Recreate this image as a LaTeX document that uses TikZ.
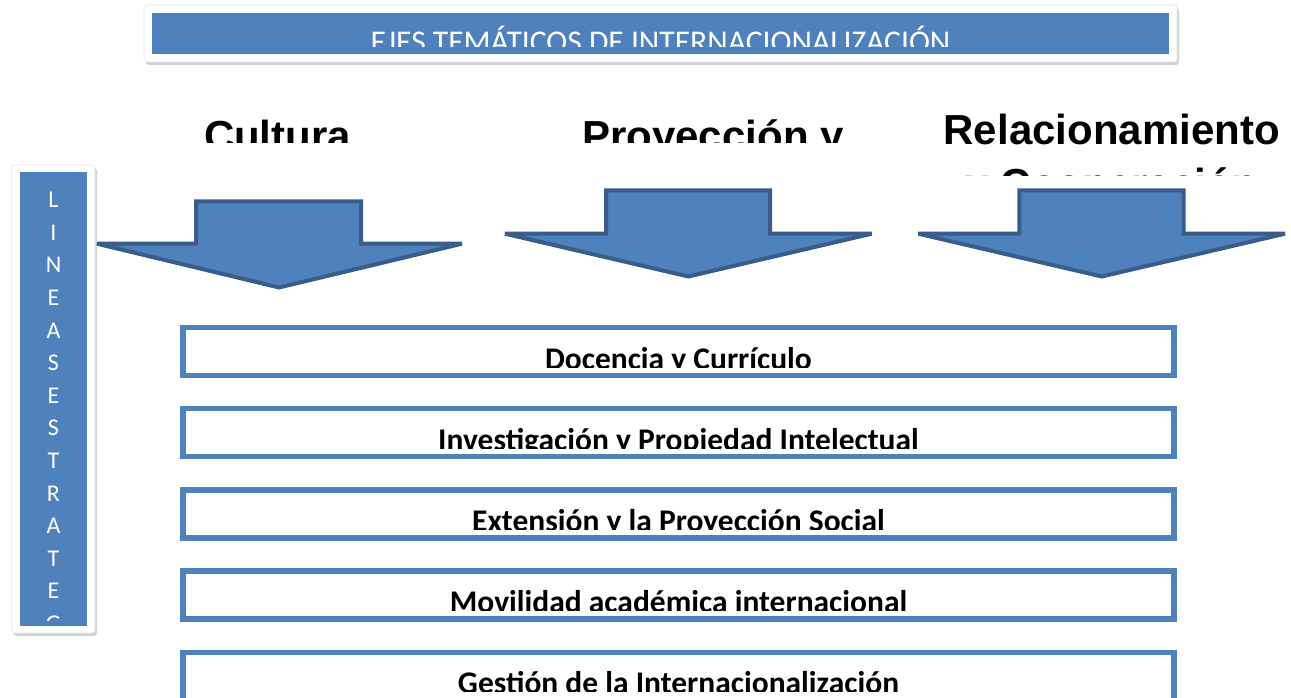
\documentclass[tikz,border=0pt]{standalone}
\usepackage{fontspec}
\setmainfont{Carlito}
\newfontfamily\arialfont{Liberation Sans}
\usetikzlibrary{shadows}
\definecolor{accent}{HTML}{4F81BD}
\definecolor{accentdark}{HTML}{385D8A}
\begin{document}
\begin{tikzpicture}[x=1pt,y=-1pt,
  panel/.style={fill=white, draw=black!10, line width=0.6pt, rounded corners=3pt,
    drop shadow={shadow xshift=2pt, shadow yshift=-3pt, opacity=0.35}},
  bluefill/.style={fill=accent, draw=none},
  axisarrow/.style={fill=accent, draw=accentdark, line width=4pt, line join=miter, miter limit=2},
  linebox/.style={fill=white, draw=accent, line width=5.5pt},
  headtext/.style={font=\arialfont\bfseries\fontsize{42}{53}\selectfont, inner sep=0, anchor=base, align=center},
  boxtext/.style={font=\bfseries\fontsize{31.5}{38}\selectfont, inner sep=0, anchor=base},
  titletext/.style={font=\fontsize{31.6}{38}\selectfont, text=white, inner sep=0, anchor=base},
  vtext/.style={font=\fontsize{24}{28}\selectfont, text=white, inner sep=0, anchor=base}
]
\clip (0,0) rectangle (1291,698);
\fill[white] (0,0) rectangle (1291,698);

% title panel
\path[panel] (144,5) rectangle (1177,62);
\path[bluefill] (152,12.7) rectangle (1169,54.3);
\begin{scope}
  \clip (152,12.7) rectangle (1169,47);
  \node[titletext] (title) at (660.5,53) {EJES TEMÁTICOS DE INTERNACIONALIZACIÓN};
\end{scope}

% headers
\begin{scope}
  \clip (150,95) rectangle (420,143);
  \node[headtext] (cultura) at (277.5,150) {Cultura};
\end{scope}
\begin{scope}
  \clip (540,95) rectangle (890,143);
  \node[headtext] (proyeccion) at (713,150) {Proyección y};
\end{scope}
\begin{scope}
  \clip (920,95) rectangle (1291,176);
  \node[headtext] (relacion) at (1111.7,145) {Relacionamiento};
  \node[headtext] (cooperacion) at (1111.7,198) {y Cooperación};
\end{scope}

% arrows
\draw[axisarrow] (196,201.3) -- (361,201.3) -- (361,243.7) -- (462,243.7) -- (279,287.5) -- (97,243.7) -- (196,243.7) -- cycle;
\draw[axisarrow] (606,190.3) -- (770,190.3) -- (770,233.7) -- (871.7,233.7) -- (688.3,276.5) -- (505,233.7) -- (606,233.7) -- cycle;
\draw[axisarrow] (1019.3,190.3) -- (1183.7,190.3) -- (1183.7,233.7) -- (1285,233.7) -- (1101.7,276.5) -- (918.3,233.7) -- (1019.3,233.7) -- cycle;

% vertical panel
\path[panel] (11.7,165) rectangle (95,633);
\path[bluefill] (20,171.7) rectangle (87.3,626);
\begin{scope}
  \clip (20,171.7) rectangle (87.3,620);
  \foreach \ch [count=\i from 0] in {L,I,N,E,A,S,E,S,T,R,A,T,E,G}
    \node[vtext] (v\i) at (53.5,207.7+32.6*\i) {\ch};
\end{scope}

% line boxes
\foreach \lbl [count=\k from 0] in {Docencia y Currículo,Investigación y Propiedad Intelectual,Extensión y la Proyección Social,Movilidad académica internacional,Gestión de la Internacionalización}{
  \draw[linebox] (183,327.5+81.2*\k) rectangle (1174,375.5+81.2*\k);
  \begin{scope}
    \clip (186,330+81.2*\k) rectangle (1171,367+81.2*\k);
    \node[boxtext] (b\k) at (678.5,369+81.2*\k) {\lbl};
  \end{scope}
}
\end{tikzpicture}
\end{document}
